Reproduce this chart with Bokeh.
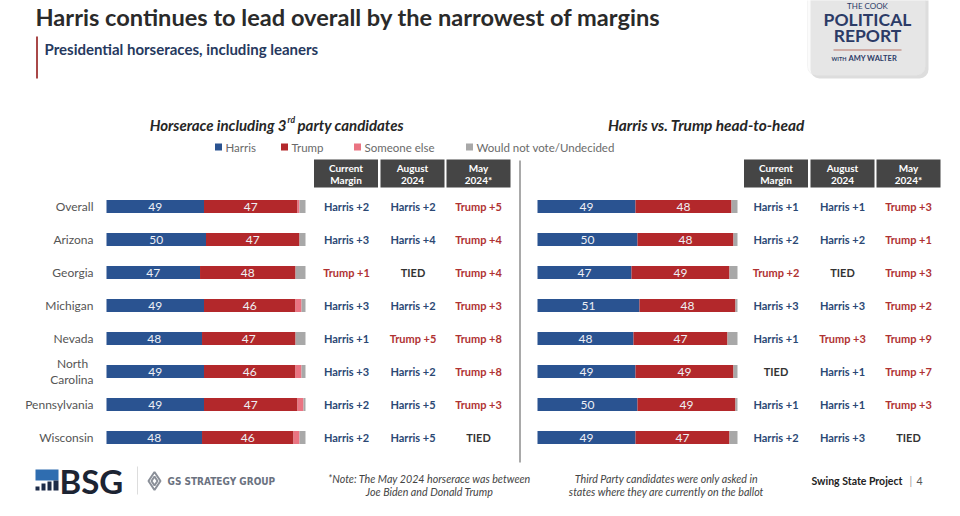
from bokeh.plotting import figure
from bokeh.models import Range1d, BoxAnnotation
from bokeh.core.properties import value
from bokeh.embed import file_html
from bokeh.resources import INLINE

# ---------------- data ----------------
states = ["Overall", "Arizona", "Georgia", "Michigan", "Nevada",
          "North Carolina", "Pennsylvania", "Wisconsin"]
left_harris = [49, 50, 47, 49, 48, 49, 49, 48]
left_trump = [47, 47, 48, 46, 47, 46, 47, 46]
left_else = [1, 0, 0, 3, 0, 3, 3, 3]
left_undec = [3, 3, 5, 2, 5, 2, 1, 3]
right_harris = [49, 50, 47, 51, 48, 49, 50, 49]
right_trump = [48, 48, 49, 48, 47, 49, 49, 47]
right_undec = [3, 2, 4, 1, 5, 2, 1, 4]
left_current = ["Harris +2", "Harris +3", "Trump +1", "Harris +3", "Harris +1", "Harris +3", "Harris +2", "Harris +2"]
left_august = ["Harris +2", "Harris +4", "TIED", "Harris +2", "Trump +5", "Harris +2", "Harris +5", "Harris +5"]
left_may = ["Trump +5", "Trump +4", "Trump +4", "Trump +3", "Trump +8", "Trump +8", "Trump +3", "TIED"]
right_current = ["Harris +1", "Harris +2", "Trump +2", "Harris +3", "Harris +1", "TIED", "Harris +1", "Harris +2"]
right_august = ["Harris +1", "Harris +2", "TIED", "Harris +3", "Trump +3", "Harris +1", "Harris +1", "Harris +3"]
right_may = ["Trump +3", "Trump +1", "Trump +3", "Trump +2", "Trump +9", "Trump +7", "Trump +3", "TIED"]
header_line1 = ["Current", "August", "May"]
header_line2 = ["Margin", "2024", "2024*"]
legend_labels = ["Harris", "Trump", "Someone else", "Would not vote/Undecided"]

# ---------------- styles ----------------
BLUE = "#2a5391"
RED = "#b3282b"
PINK = "#ea7482"
GRAY = "#a8a8a8"
NAVY_TXT = "#2b4874"
RED_TXT = "#b03232"
FONT = "Lato"

W, H = 944, 500
p = figure(width=W, height=H, output_backend="svg", toolbar_location=None,
           x_range=Range1d(0, W), y_range=Range1d(H, 0),
           min_border=0, outline_line_color=None, background_fill_color="white")
p.axis.visible = False
p.grid.visible = False

# percent scales for the two bar panels
L0, LS = 106.0, 1.99
R0, RS = 537.0, 2.0
p.extra_x_ranges = {
    "L": Range1d((0 - L0) / LS, (W - L0) / LS),
    "R": Range1d((0 - R0) / RS, (W - R0) / RS),
}

row_y = [206 + 33 * i for i in range(len(states))]


def txt(x, y, s, size, color, style="normal", align="left", baseline="middle", font=FONT, **kw):
    p.text(x=[x], y=[y], text=[s], text_font=value(font), text_font_size=f"{size}px",
           text_color=color, text_font_style=style, text_align=align, text_baseline=baseline, **kw)


# ---------------- header ----------------
txt(35, 16, "Harris continues to lead overall by the narrowest of margins", 23.6, "#2a2a2a", "bold")
p.segment(x0=[36.5], y0=[36], x1=[36.5], y1=[78], line_color="#a94848", line_width=2)
txt(44, 48, "Presidential horseraces, including leaners", 15, "#26395e", "bold")

# logo
p.add_layout(BoxAnnotation(left=810, right=928, top=-20, bottom=78, fill_color="#cfcfcf",
                           fill_alpha=0.7, line_color=None, border_radius=9, level="underlay"))
p.add_layout(BoxAnnotation(left=807, right=925, top=-20, bottom=75, fill_color="#f4f4f4",
                           line_color="#e2e2e2", border_radius=9, level="underlay"))
txt(867, 5, "THE COOK", 8, "#2c3b66", align="center")
txt(867, 19, "POLITICAL", 17.5, "#2c3b66", "bold", align="center")
txt(867, 35, "REPORT", 17.5, "#2c3b66", "bold", align="center")
p.segment(x0=[833], y0=[49.5], x1=[901], y1=[49.5], line_color="#c89a90", line_width=1.5)
txt(846, 58, "WITH", 5.5, "#2c3b66", "bold", align="right")
txt(848, 58, "AMY WALTER", 7.5, "#2c3b66", "bold")

# section headings
txt(286, 124, "Horserace including 3", 15, "#262626", "bold italic", align="right")
txt(287, 119, "rd", 8.5, "#262626", "bold italic")
txt(297, 124, "party candidates", 15, "#262626", "bold italic")
txt(706, 124, "Harris vs. Trump head-to-head", 15.4, "#262626", "bold italic", align="center")

# legend
leg_x = [218, 284, 357, 469]
leg_c = [BLUE, RED, PINK, GRAY]
p.scatter(x=leg_x, y=[146.5] * 4, marker="square", size=7, fill_color=leg_c, line_color=None)
p.text(x=[x + 7 for x in leg_x], y=[146.5] * 4, text=legend_labels, text_font=value(FONT),
       text_font_size="11.5px", text_color="#6a6a6a", text_baseline="middle")

# divider
p.segment(x0=[519.5], y0=[160], x1=[519.5], y1=[462], line_color="#555555", line_width=1)

# column header boxes
for cx in ([345.5, 412, 478], [775.5, 842, 908]):
    p.rect(x=cx, y=[173] * 3, width=64, height=28, fill_color="#454545", line_color=None)
    p.text(x=cx, y=[167.5] * 3, text=header_line1, text_font=value(FONT), text_font_size="10px",
           text_color="white", text_font_style="bold", text_align="center", text_baseline="middle")
    p.text(x=cx, y=[179.5] * 3, text=header_line2, text_font=value(FONT), text_font_size="10px",
           text_color="white", text_font_style="bold", text_align="center", text_baseline="middle")

# state labels
for s, y in zip(states, row_y):
    if s == "North Carolina":
        txt(93, y - 8, "North", 12, "#555555", align="center", x_offset=-21)
        txt(93, y + 8, "Carolina", 12, "#555555", align="right")
    else:
        txt(93, y, s, 12, "#555555", align="right")


def stack_bars(series, colors, rng, labelled):
    left = [0.0] * len(row_y)
    for vals, col, lab in zip(series, colors, labelled):
        right = [a + b for a, b in zip(left, vals)]
        p.hbar(y=row_y, left=left, right=right, height=13, fill_color=col, line_color=None,
               x_range_name=rng)
        if lab:
            mids = [(a + b) / 2 for a, b in zip(left, right)]
            p.text(x=mids, y=row_y, text=[str(v) for v in vals], text_font=value(FONT),
                   text_font_size="12px", text_color="#eef0f5", text_align="center",
                   text_baseline="middle", x_range_name=rng)
        left = right


stack_bars([left_harris, left_trump, left_else, left_undec], [BLUE, RED, PINK, GRAY], "L",
           [True, True, False, False])
stack_bars([right_harris, right_trump, right_undec], [BLUE, RED, GRAY], "R",
           [True, True, False])


def margin_color(s):
    if s.startswith("Harris"):
        return NAVY_TXT
    if s.startswith("Trump"):
        return RED_TXT
    return "#333333"


for cx, col in zip([346, 412.5, 478, 775.5, 842, 908],
                   [left_current, left_august, left_may, right_current, right_august, right_may]):
    p.text(x=[cx] * len(col), y=row_y, text=col, text_font=value(FONT), text_font_size="11px",
           text_font_style="bold", text_color=[margin_color(s) for s in col],
           text_align="center", text_baseline="middle")

# ---------------- footer ----------------
# BSG logo
p.quad(left=[35], right=[58], top=[469], bottom=[480], fill_color="#2f6db0", line_color=None)
p.quad(left=[35, 41, 47, 53], right=[39, 45, 51, 58], top=[486, 483, 481, 480],
       bottom=[490, 490, 490, 490], fill_color="#1c2b48", line_color=None)
txt(59, 480, "BSG", 33, "#1c2433", "bold")
p.segment(x0=[137], y0=[466], x1=[137], y1=[494], line_color="#dddddd", line_width=1)
p.scatter(x=[154], y=[480.5], marker="diamond", size=18, fill_color=None,
          line_color="#8a8f98", line_width=2)
p.scatter(x=[154], y=[480.5], marker="diamond", size=9, fill_color=None,
          line_color="#8a8f98", line_width=2)
txt(167, 481, "GS STRATEGY GROUP", 10, "#6b7280", "bold", font="DejaVu Sans Condensed")

txt(429, 478, "*Note: The May 2024 horserace was between", 10.7, "#444444", "italic", align="center")
txt(429, 491, "Joe Biden and Donald Trump", 10.7, "#444444", "italic", align="center")
txt(666, 478, "Third Party candidates were only asked in", 10.7, "#444444", "italic", align="center")
txt(666, 490.5, "states where they are currently on the ballot", 10.7, "#444444", "italic", align="center")
txt(811, 480.5, "Swing State Project", 10.5, "#222222", "bold")
txt(909, 480.5, "|", 10.5, "#999999")
txt(916, 480.5, "4", 10.5, "#555555")

open("out.html", "w").write(file_html(p, INLINE))
